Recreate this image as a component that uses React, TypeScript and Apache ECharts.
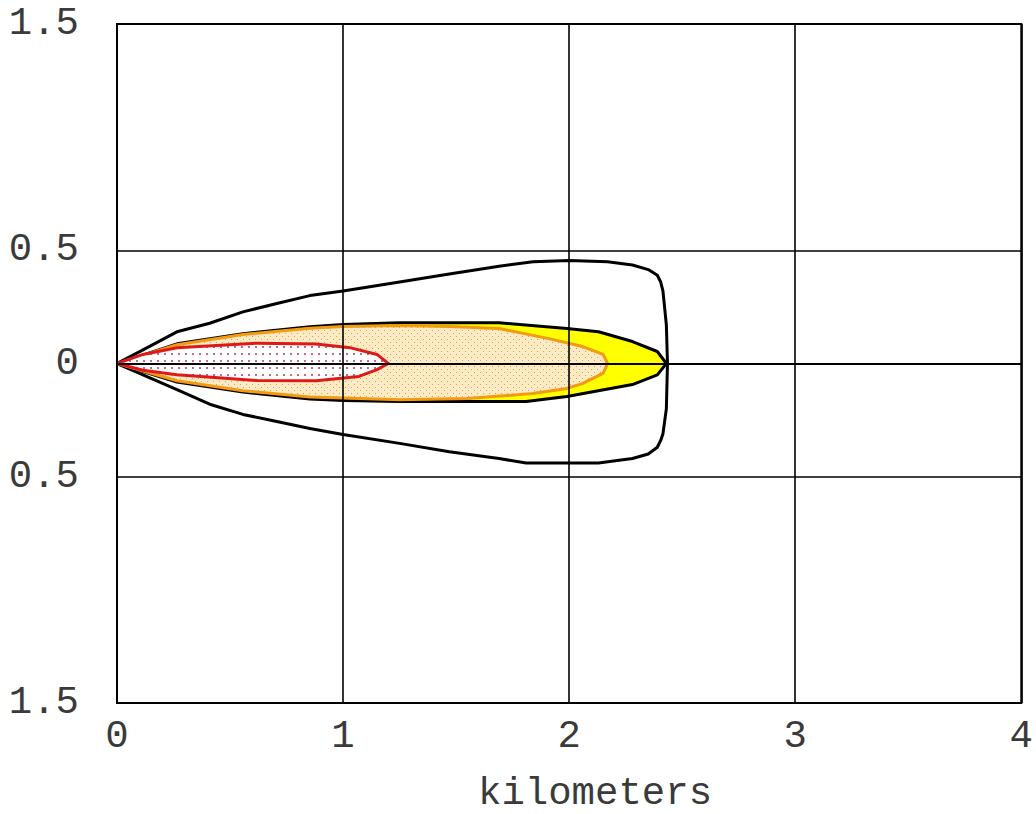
import React, { useEffect, useRef } from "react";
import * as echarts from "echarts";

// Axis settings / tick labels
const xTicks = [0, 1, 2, 3, 4];
const yLabelValues = [-1.5, -0.5, 0, 0.5, 1.5];
const xAxisTitle = "kilometers";

// Outer black confidence contour [km downwind, km crosswind]
const outerContour: number[][] = [
  [0, 0], [0.115, 0.06], [0.265, 0.14], [0.41, 0.178], [0.557, 0.228],
  [0.707, 0.265], [0.853, 0.3], [1.0, 0.32], [1.25, 0.36], [1.47, 0.395],
  [1.69, 0.43], [1.84, 0.45], [2.0, 0.455], [2.17, 0.45], [2.28, 0.435],
  [2.35, 0.415], [2.39, 0.39], [2.405, 0.36], [2.415, 0.32], [2.43, 0.17],
  [2.435, 0], [2.43, -0.2], [2.415, -0.31], [2.405, -0.34], [2.39, -0.37],
  [2.35, -0.4], [2.28, -0.42], [2.13, -0.44], [1.81, -0.44], [1.69, -0.42],
  [1.47, -0.39], [1.25, -0.353], [1.0, -0.314], [0.853, -0.287],
  [0.707, -0.256], [0.557, -0.225], [0.41, -0.18], [0.265, -0.115],
  [0.115, -0.05], [0, 0],
];

// Yellow threat zone
const yellowZone: number[][] = [
  [0, 0], [0.265, 0.087], [0.557, 0.132], [0.853, 0.162], [1.0, 0.172],
  [1.25, 0.18], [1.69, 0.18], [1.99, 0.155], [2.13, 0.14], [2.28, 0.097],
  [2.39, 0.053], [2.43, 0], [2.39, -0.05], [2.28, -0.093], [1.99, -0.146],
  [1.81, -0.168], [1.25, -0.168], [1.0, -0.163], [0.853, -0.157],
  [0.557, -0.126], [0.265, -0.082],
];

// Orange threat zone
const orangeZone: number[][] = [
  [0, 0], [0.265, 0.083], [0.557, 0.128], [0.853, 0.156], [1.0, 0.163],
  [1.25, 0.168], [1.47, 0.163], [1.69, 0.155], [1.91, 0.11], [2.06, 0.075],
  [2.15, 0.04], [2.17, 0], [2.15, -0.044], [2.06, -0.088], [1.99, -0.11],
  [1.84, -0.133], [1.55, -0.155], [1.25, -0.16], [1.0, -0.152],
  [0.853, -0.148], [0.557, -0.12], [0.265, -0.076],
];

// Red threat zone
const redZone: number[][] = [
  [0, 0], [0.115, 0.04], [0.265, 0.07], [0.62, 0.09], [0.88, 0.086], [1.03, 0.07],
  [1.15, 0.04], [1.2, 0], [1.15, -0.027], [1.07, -0.057], [0.88, -0.076],
  [0.62, -0.075], [0.265, -0.05], [0.115, -0.03],
];

function makePattern(
  size: number,
  bg: string,
  dot: string,
  dotSize: number,
  staggered: boolean
) {
  const c = document.createElement("canvas");
  c.width = size;
  c.height = size;
  const ctx = c.getContext("2d")!;
  ctx.fillStyle = bg;
  ctx.fillRect(0, 0, size, size);
  ctx.fillStyle = dot;
  if (staggered) {
    ctx.fillRect(0, 0, dotSize, dotSize);
    ctx.fillRect(size / 2, size / 2, dotSize, dotSize);
  } else {
    ctx.fillRect(Math.floor(size / 2), Math.floor(size / 2), dotSize, dotSize);
  }
  return {
    image: c.toDataURL(),
    repeat: "repeat",
    imageWidth: size,
    imageHeight: size,
  } as any;
}

function polygonSeries(
  name: string,
  pts: number[][],
  fill: any,
  stroke: string,
  closed: boolean
) {
  return {
    type: "custom",
    name,
    data: pts,
    clip: true,
    renderItem: (params: any, api: any) => {
      if (params.dataIndex !== 0) return null;
      const points = pts.map((p) => api.coord(p));
      return {
        type: closed ? "polygon" : "polyline",
        shape: { points },
        style: {
          fill: closed ? fill : "none",
          stroke,
          lineWidth: 3,
          lineJoin: "round",
        },
      };
    },
  };
}

const FONT = '"Liberation Mono", "Courier New", monospace';
const TEXT_COLOR = "#3a3a3a";

export default function App() {
  const ref = useRef<HTMLDivElement>(null);

  useEffect(() => {
    if (!ref.current) return;
    const chart = echarts.init(ref.current, undefined, { renderer: "svg" });

    const orangeFill = makePattern(6, "#fcebc4", "#e0a048", 1, true);
    const redFill = makePattern(7, "#ffffff", "#c26a88", 2, false);

    chart.setOption({
      animation: false,
      backgroundColor: "#ffffff",
      grid: {
        left: 117,
        right: 14,
        top: 24,
        bottom: 111,
        show: true,
        borderColor: "#000",
        borderWidth: 2,
        backgroundColor: "transparent",
      },
      xAxis: {
        type: "value",
        min: xTicks[0],
        max: xTicks[xTicks.length - 1],
        interval: 1,
        z: 10,
        axisLine: { show: true, lineStyle: { color: "#000", width: 2 } },
        axisTick: { show: false },
        splitLine: { show: true, lineStyle: { color: "#000", width: 1.6 } },
        axisLabel: {
          margin: 14,
          fontFamily: FONT,
          fontSize: 39,
          color: TEXT_COLOR,
        },
      },
      yAxis: {
        type: "value",
        min: -1.5,
        max: 1.5,
        interval: 0.5,
        z: 10,
        axisLine: { show: true, lineStyle: { color: "#000", width: 2 } },
        axisTick: { show: false },
        splitLine: {
          show: true,
          lineStyle: {
            color: [
              "#000",
              "rgba(0,0,0,0)",
              "#000",
              "#000",
              "#000",
              "rgba(0,0,0,0)",
              "#000",
            ],
            width: 1.6,
          },
        },
        axisLabel: {
          margin: 38,
          fontFamily: FONT,
          fontSize: 39,
          color: TEXT_COLOR,
          formatter: (v: number) => {
            const hit = yLabelValues.some((t) => Math.abs(t - v) < 1e-9);
            return hit ? String(Math.abs(v)) : "";
          },
        },
      },
      graphic: [
        {
          type: "text",
          left: 478,
          top: 774,
          style: {
            text: xAxisTitle,
            font: `39px ${FONT}`,
            fill: TEXT_COLOR,
          },
        },
      ],
      series: [
        polygonSeries("outer", outerContour, "none", "#000", false),
        polygonSeries("yellow", yellowZone, "#ffff00", "#000", true),
        polygonSeries("orange", orangeZone, orangeFill, "#f39a10", true),
        polygonSeries("red", redZone, redFill, "#e01818", true),
      ],
    });

    return () => chart.dispose();
  }, []);

  return (
    <div
      ref={ref}
      style={{ position: "fixed", left: 0, top: 0, width: 1036, height: 814 }}
    />
  );
}
